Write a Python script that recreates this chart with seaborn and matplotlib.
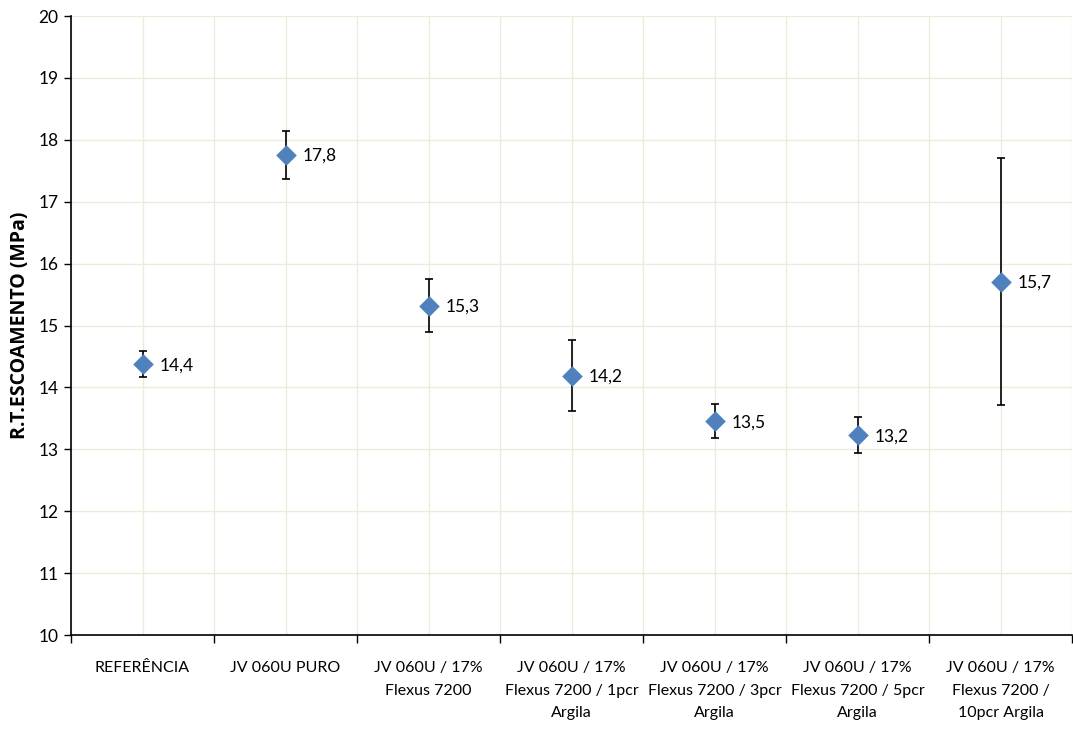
import numpy as np
import pandas as pd
import seaborn as sns
import matplotlib.pyplot as plt
from matplotlib.ticker import FixedLocator

# Data
categories = ['REFERÊNCIA', 'JV 060U PURO', 'JV 060U / 17%\nFlexus 7200',
              'JV 060U / 17%\nFlexus 7200 / 1pcr\nArgila',
              'JV 060U / 17%\nFlexus 7200 / 3pcr\nArgila',
              'JV 060U / 17%\nFlexus 7200 / 5pcr\nArgila',
              'JV 060U / 17%\nFlexus 7200 /\n10pcr Argila']
values = [14.38, 17.76, 15.32, 14.19, 13.46, 13.23, 15.71]
errors = [0.21, 0.39, 0.43, 0.57, 0.27, 0.29, 1.99]

data = pd.DataFrame({'pos': np.arange(len(categories)), 'value': values, 'err': errors})

sns.set_theme(style='white')
plt.rcParams['font.family'] = ['Lato', 'DejaVu Sans']
plt.rcParams['text.color'] = 'black'
plt.rcParams['xtick.color'] = 'black'
plt.rcParams['ytick.color'] = 'black'
plt.rcParams['axes.labelcolor'] = 'black'

fig = plt.figure(figsize=(10.73, 7.31), dpi=100)
ax = fig.add_axes([0.0662, 0.1313, 0.933, 0.8468])

grid_col = '#EEEBDD'
ax.errorbar(data['pos'], data['value'], yerr=data['err'], fmt='none',
            ecolor='black', elinewidth=1.2, capsize=3, capthick=1.2, zorder=3)
sns.scatterplot(data=data, x='pos', y='value', marker='D', s=110, color='#4F81BD',
                edgecolor='#4F81BD', linewidth=0, ax=ax, zorder=4)

for x, v in zip(data['pos'], data['value']):
    ax.annotate(f'{v:.1f}'.replace('.', ','), (x, v), xytext=(12, -1),
                textcoords='offset points', va='center', ha='left', fontsize=12.5)

ax.set_xlim(-0.5, len(categories) - 0.5)
ax.set_ylim(10, 20)
ax.set_yticks(np.arange(10, 21, 1))
ax.tick_params(axis='y', labelsize=12.5, length=5, width=1, direction='out', left=True, pad=4)

# boundaries carry tick marks, centres carry labels
bounds = np.arange(-0.5, len(categories), 1.0)
ax.xaxis.set_major_locator(FixedLocator(bounds))
ax.xaxis.set_minor_locator(FixedLocator(data['pos']))
ax.set_xticklabels([''] * len(bounds))
ax.set_xticklabels(categories, minor=True, linespacing=1.75)
ax.tick_params(axis='x', which='major', length=6, width=1, direction='out', bottom=True)
ax.tick_params(axis='x', which='minor', length=0, labelsize=11.5, pad=19)

ax.grid(True, which='both', axis='x', color=grid_col, linewidth=1)
ax.grid(True, which='major', axis='y', color=grid_col, linewidth=1)
ax.set_axisbelow(True)

ax.set_xlabel('')
ax.set_ylabel('R.T.ESCOAMENTO (MPa)', fontsize=14, fontweight='bold',
              family=['Open Sans', 'DejaVu Sans'], labelpad=6)

for side in ['top', 'right']:
    ax.spines[side].set_visible(False)
for side in ['left', 'bottom']:
    ax.spines[side].set_color('black')
    ax.spines[side].set_linewidth(1.2)

plt.savefig('out.png', dpi=100)
